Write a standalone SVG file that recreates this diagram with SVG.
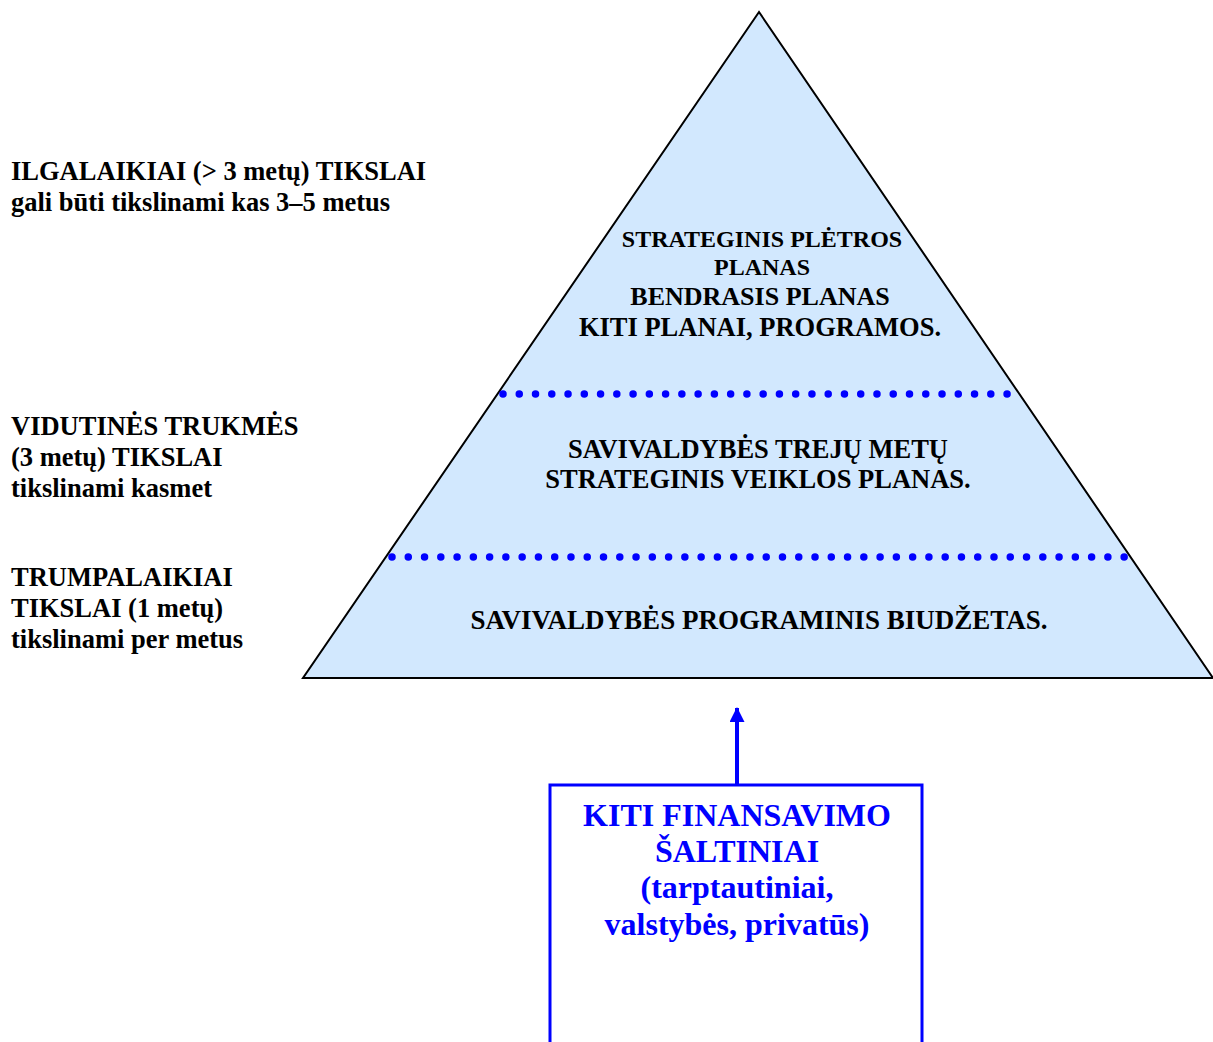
<svg xmlns="http://www.w3.org/2000/svg" width="1213" height="1042" viewBox="0 0 1213 1042">
<style>
.t{font-family:"Liberation Serif","Times New Roman",serif;font-weight:bold;fill:#000;font-size:26.5px}
.p{font-family:"Liberation Serif","Times New Roman",serif;font-weight:bold;fill:#000;text-anchor:middle}
.b{font-family:"Liberation Serif","Times New Roman",serif;font-weight:bold;fill:#0000FF;text-anchor:middle;font-size:32px}
.dots{stroke:#0000FF;stroke-width:7.5;stroke-linecap:round;fill:none}
</style>
<defs>
<marker id="ah" markerWidth="15" markerHeight="15" refX="14" refY="7.5" orient="auto" markerUnits="userSpaceOnUse" viewBox="0 0 15 15">
<path d="M0,0 L15,7.5 L0,15 Z" fill="#0000FF"/>
</marker>
</defs>
<rect width="1213" height="1042" fill="#fff"/>
<g id="pyramid">
<polygon points="759,12 303,678 1213,678" fill="#D2E8FE" stroke="#000" stroke-width="2"/>
<line class="dots" x1="503" y1="394" x2="1007.5" y2="394" stroke-dasharray="0 16.26"/>
<line class="dots" x1="392" y1="557" x2="1124.5" y2="557" stroke-dasharray="0 16.27"/>
<text class="p" font-size="24" x="762" y="247">STRATEGINIS PLĖTROS</text>
<text class="p" font-size="24" x="762" y="275">PLANAS</text>
<text class="p" font-size="26" x="760" y="305">BENDRASIS PLANAS</text>
<text class="p" font-size="26.5" x="760" y="336">KITI PLANAI, PROGRAMOS.</text>
<text class="p" font-size="26.5" x="758" y="458">SAVIVALDYBĖS TREJŲ METŲ</text>
<text class="p" font-size="26.5" x="758" y="488">STRATEGINIS VEIKLOS PLANAS.</text>
<text class="p" font-size="27" x="759" y="629">SAVIVALDYBĖS PROGRAMINIS BIUDŽETAS.</text>
</g>
<g id="labels">
<text class="t" x="11" y="180">ILGALAIKIAI (&gt; 3 metų) TIKSLAI</text>
<text class="t" x="11" y="211">gali būti tikslinami kas 3–5 metus</text>
<text class="t" x="11" y="435">VIDUTINĖS TRUKMĖS</text>
<text class="t" x="11" y="466">(3 metų) TIKSLAI</text>
<text class="t" x="11" y="497">tikslinami kasmet</text>
<text class="t" x="11" y="586">TRUMPALAIKIAI</text>
<text class="t" x="11" y="617">TIKSLAI (1 metų)</text>
<text class="t" x="11" y="648">tikslinami per metus</text>
</g>
<g id="sources">
<rect x="550" y="785" width="372" height="270" fill="#fff" stroke="#0000FF" stroke-width="3"/>
<text class="b" x="737" y="826">KITI FINANSAVIMO</text>
<text class="b" x="737" y="862">ŠALTINIAI</text>
<text class="b" x="737" y="898">(tarptautiniai,</text>
<text class="b" x="737" y="935">valstybės, privatūs)</text>
</g>
<g id="connectors">
<line x1="737" y1="784" x2="737" y2="708" stroke="#0000FF" stroke-width="4" marker-end="url(#ah)"/>
</g>
</svg>
